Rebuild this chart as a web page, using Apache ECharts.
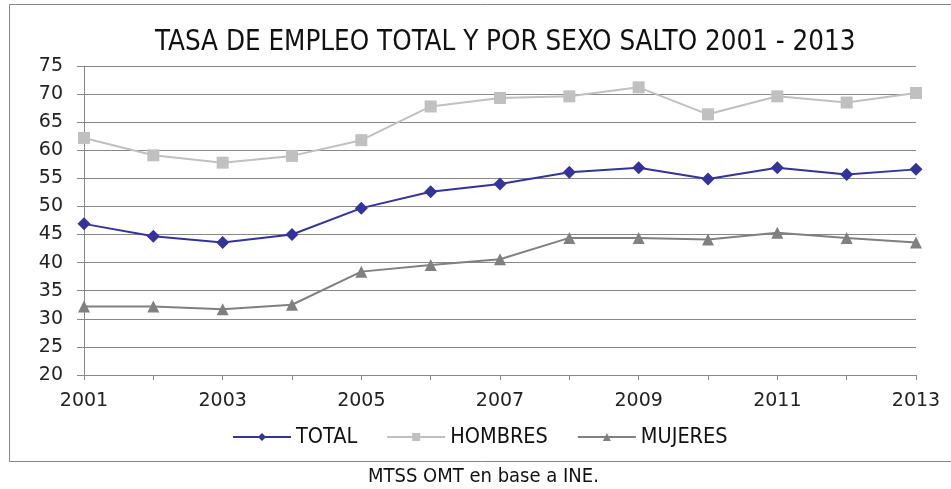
<!DOCTYPE html>
<html>
<head>
<meta charset="utf-8">
<script src="https://cdn.jsdelivr.net/npm/echarts@6/dist/echarts.min.js"></script>
<style>
	html, body { margin: 0; padding: 0; background: #fff; }
	#chart { width: 951px; height: 489px; }
</style>
</head>
<body>
<div id="chart"></div>
<script>
// años
var years = ['2001', '2002', '2003', '2004', '2005', '2006', '2007', '2008', '2009', '2010', '2011', '2012', '2013'];
// tasa de empleo
var total = [46.9, 44.7, 43.6, 45.0, 49.7, 52.6, 54.0, 56.1, 56.9, 54.9, 56.9, 55.7, 56.6];
var hombres = [62.2, 59.1, 57.8, 59.0, 61.8, 67.8, 69.3, 69.6, 71.2, 66.4, 69.6, 68.5, 70.2];
var mujeres = [32.2, 32.2, 31.7, 32.5, 38.4, 39.6, 40.6, 44.4, 44.4, 44.1, 45.3, 44.4, 43.6];

var chart = echarts.init(document.getElementById('chart'));

var narrow = '"Liberation Sans Narrow", "DejaVu Sans Condensed", sans-serif';

var option = {
	backgroundColor: '#fff',
	animation: false,
	title: {
		text: 'TASA DE EMPLEO TOTAL Y POR SEXO SALTO 2001 - 2013',
		left: 150,
		top: 24,
		textStyle: { fontFamily: narrow, fontSize: 27.5, fontWeight: 'normal', color: '#111' }
	},
	legend: {
		bottom: 36,
		left: 227,
		itemWidth: 58,
		itemHeight: 10,
		itemGap: 29,
		textStyle: { fontFamily: narrow, fontSize: 21.5, color: '#111' },
		data: ['TOTAL', 'HOMBRES', 'MUJERES']
	},
	grid: { left: 84, right: 35, top: 66, bottom: 114 },
	xAxis: {
		type: 'category',
		data: years,
		boundaryGap: false,
		axisLine: { lineStyle: { color: '#888' } },
		axisTick: { show: true, interval: 0, length: 5, lineStyle: { color: '#888' } },
		axisLabel: { interval: 1, margin: 17, fontFamily: 'DejaVu Sans', fontSize: 19, color: '#222' },
		splitLine: { show: false }
	},
	yAxis: {
		type: 'value',
		min: 20,
		max: 75,
		interval: 5,
		axisLine: { show: true, lineStyle: { color: '#888' } },
		axisTick: { show: true, length: 7, lineStyle: { color: '#888' } },
		axisLabel: { margin: 21, fontFamily: 'DejaVu Sans', fontSize: 19, color: '#222' },
		splitLine: { lineStyle: { color: '#888', width: 1 } }
	},
	series: [{
		name: 'TOTAL',
		type: 'line',
		data: total,
		symbol: 'diamond',
		symbolSize: 13,
		itemStyle: { color: '#333399' },
		lineStyle: { color: '#333399', width: 2 }
	}, {
		name: 'HOMBRES',
		type: 'line',
		data: hombres,
		symbol: 'rect',
		symbolSize: 12,
		itemStyle: { color: '#c0c0c0' },
		lineStyle: { color: '#c0c0c0', width: 2 }
	}, {
		name: 'MUJERES',
		type: 'line',
		data: mujeres,
		symbol: 'triangle',
		symbolSize: 12,
		itemStyle: { color: '#808080' },
		lineStyle: { color: '#808080', width: 2 }
	}],
	graphic: [{
		type: 'rect',
		shape: { x: 9.5, y: 4.5, width: 960, height: 457 },
		style: { fill: null, stroke: '#888', lineWidth: 1 },
		silent: true,
		z: -1
	}, {
		type: 'text',
		left: 368,
		top: 467,
		style: { text: 'MTSS OMT en base a INE.', font: '20px ' + narrow, fill: '#111' }
	}]
};

chart.setOption(option);
</script>
</body>
</html>
